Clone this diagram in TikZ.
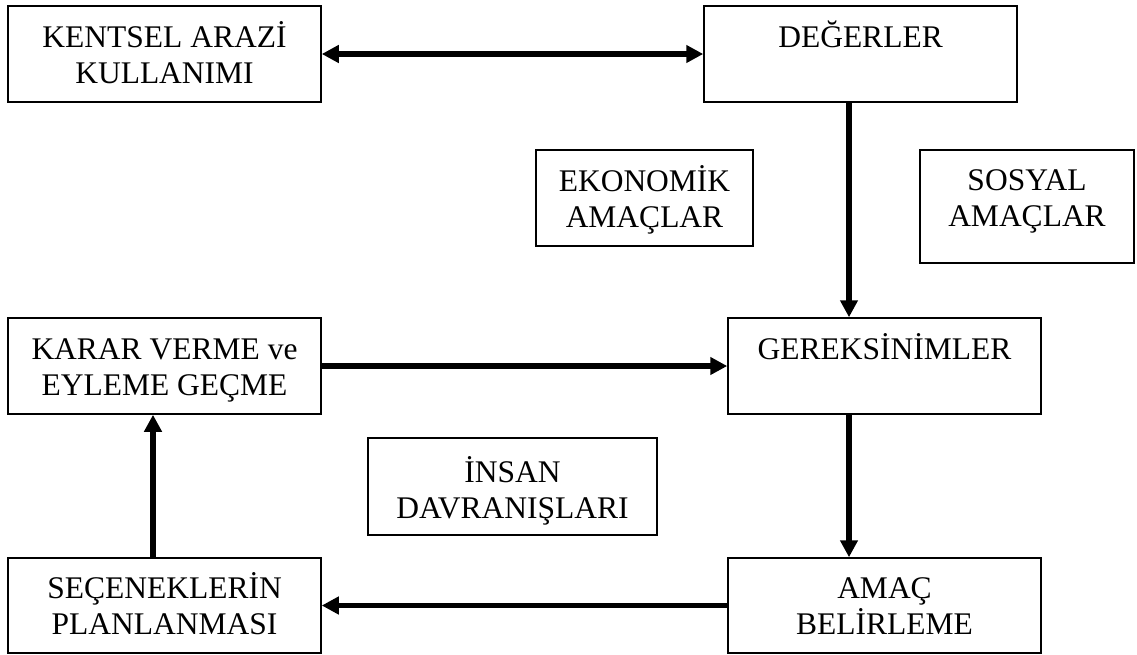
\documentclass[tikz,border=0pt]{standalone}
\usepackage{fontspec}
\setmainfont{Liberation Serif}
\usetikzlibrary{arrows.meta}
\begin{document}
\begin{tikzpicture}[x=1pt,y=-1pt,
  box/.style={draw, line width=1.5pt, inner sep=0pt, align=center,
    font=\fontsize{31.5}{36}\selectfont},
  oneline/.style={box, text height=28pt, text depth=42pt},
  twoline/.style={box, text height=64pt, text depth=6pt},
  flow/.style={line width=5.5pt, -{Triangle[width=17pt,length=17pt]}},
  bothflow/.style={line width=5.5pt, {Triangle[width=17pt,length=17pt]}-{Triangle[width=17pt,length=17pt]}}]
\useasboundingbox (0,0) rectangle (1137,654);

% main cycle boxes
\node[twoline, minimum width=313pt, minimum height=96pt] (ku) at (164.5,54) {KENTSEL ARAZİ\\KULLANIMI};
\node[oneline, minimum width=313pt, minimum height=96pt] (de) at (860.5,54) {DEĞERLER};
\node[oneline, minimum width=313pt, minimum height=96pt] (ge) at (884.5,366) {GEREKSİNİMLER};
\node[twoline, minimum width=313pt, minimum height=96pt] (ka) at (164.5,366) {KARAR VERME ve\\EYLEME GEÇME};
\node[twoline, minimum width=313pt, minimum height=95pt] (am) at (884.5,605.5) {AMAÇ\\BELİRLEME};
\node[twoline, minimum width=313pt, minimum height=95pt] (se) at (164.5,605.5) {SEÇENEKLERİN\\PLANLANMASI};

% free-standing boxes
\node[twoline, minimum width=217pt, minimum height=96pt] (ek) at (644.5,198) {EKONOMİK\\AMAÇLAR};
\node[twoline, minimum width=214pt, minimum height=113pt, text depth=24pt] (so) at (1027,206.5) {SOSYAL\\AMAÇLAR};
\node[twoline, minimum width=289pt, minimum height=97pt, text depth=0pt] (in) at (512.5,486.5) {İNSAN\\DAVRANIŞLARI};

% connectors
\draw[bothflow] (ku.east) -- (de.west);
\draw[flow] ([xshift=-11.5pt]de.south) -- ([xshift=-35.5pt]ge.north);
\draw[flow] (ka.east) -- (ge.west);
\draw[flow] ([xshift=-35.5pt]ge.south) -- ([xshift=-35.5pt]am.north);
\draw[flow] (am.west) -- (se.east);
\draw[flow] ([xshift=-11.5pt]se.north) -- ([xshift=-11.5pt]ka.south);
\end{tikzpicture}
\end{document}
